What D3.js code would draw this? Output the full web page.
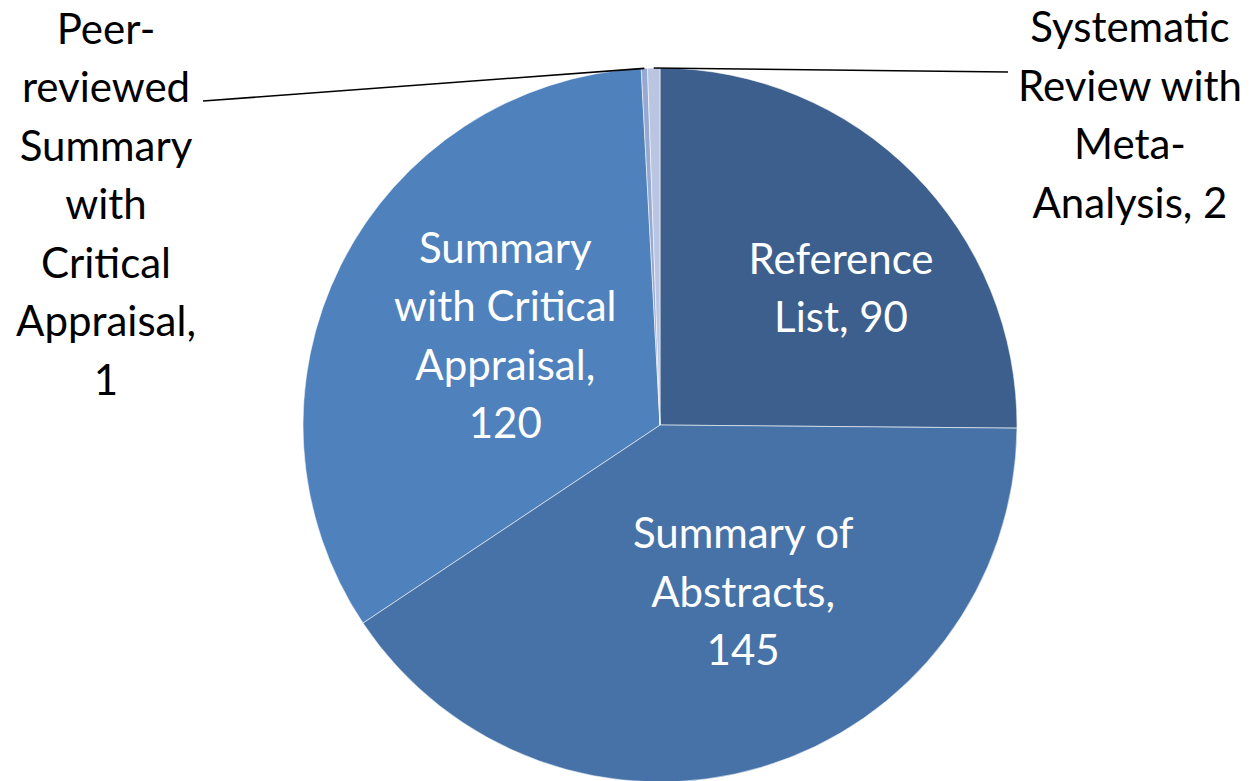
<!DOCTYPE html>
<html>
<head>
<meta charset="utf-8">
<script src="https://cdn.jsdelivr.net/npm/d3@7"></script>
<style>
  body { margin: 0; background: #fff; }
  svg { display: block; }
</style>
</head>
<body>
<svg id="pie" width="1254" height="781"></svg>
<script>
// data
const categories = [
  "Reference List",
  "Summary of Abstracts",
  "Summary with Critical Appraisal",
  "Peer-reviewed Summary with Critical Appraisal",
  "Systematic Review with Meta-Analysis"
];
const values = [90, 145, 120, 1, 2];
const labelLines = [
  ["Reference", "List, 90"],
  ["Summary of", "Abstracts,", "145"],
  ["Summary", "with Critical", "Appraisal,", "120"],
  ["Peer-", "reviewed", "Summary", "with", "Critical", "Appraisal,", "1"],
  ["Systematic", "Review with", "Meta-", "Analysis, 2"]
];
const colors = ["#3c5f8d", "#4672a7", "#4f81bd", "#95a9d3", "#b9c5e1"];

// layout
const cx = 660, cy = 425, r = 357;
const fontSize = 42, lineH = 58.5, capH = 30;
const labelRadius = 200;
// inside labels get a nudge off the centroid, outside ones a box centre + leader end
const labelLayout = [
  { inside: true, dx: 39, dy: 4 },
  { inside: true, dx: 26, dy: -25 },
  { inside: true, dx: 24, dy: 0 },
  { inside: false, x: 106, y: 204, lx: 203, ly: 101 },
  { inside: false, x: 1130, y: 115, lx: 1008, ly: 72 }
];

const svg = d3.select("#pie");
const g = svg.append("g").attr("transform", `translate(${cx},${cy})`);

const pie = d3.pie().sort(null).value(d => d);
const arcs = pie(values);

const arc = d3.arc().innerRadius(0).outerRadius(r);
const labelArc = d3.arc().innerRadius(labelRadius).outerRadius(labelRadius);
const edgeArc = d3.arc().innerRadius(r).outerRadius(r);

g.selectAll("path.slice")
  .data(arcs)
  .join("path")
  .attr("class", "slice")
  .attr("d", arc)
  .attr("fill", (d, i) => colors[i])
  .attr("stroke", "#ffffff")
  .attr("stroke-opacity", 0.55)
  .attr("stroke-width", 1);

//leader lines for the two tiny slices
g.selectAll("line.leader")
  .data(arcs.filter((d, i) => !labelLayout[i].inside))
  .join("line")
  .attr("class", "leader")
  .attr("x1", d => edgeArc.centroid(d)[0])
  .attr("y1", d => edgeArc.centroid(d)[1])
  .attr("x2", d => labelLayout[d.index].lx - cx)
  .attr("y2", d => labelLayout[d.index].ly - cy)
  .attr("stroke", "#000")
  .attr("stroke-width", 1.6);

g.selectAll("text.lbl")
  .data(arcs)
  .join("text")
  .attr("class", "lbl")
  .attr("text-anchor", "middle")
  .attr("font-family", "Lato, 'Open Sans', sans-serif")
  .attr("font-size", fontSize)
  .attr("fill", (d, i) => labelLayout[i].inside ? "#ffffff" : "#000000")
  .each(function(d, i) {
    const lay = labelLayout[i];
    let x, y;
    if (lay.inside) {
      const c = labelArc.centroid(d);
      x = c[0] + lay.dx;
      y = c[1] + lay.dy;
    } else {
      x = lay.x - cx;
      y = lay.y - cy;
    }
    const lines = labelLines[i];
    const n = lines.length;
    d3.select(this).selectAll("tspan")
      .data(lines)
      .join("tspan")
      .attr("x", x)
      .attr("y", (t, k) => y + (k - (n - 1) / 2) * lineH + capH / 2)
      .text(t => t);
  });
</script>
</body>
</html>
